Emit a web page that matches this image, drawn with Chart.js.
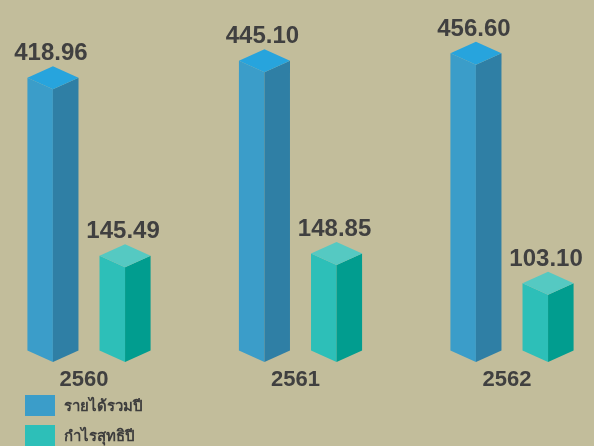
<!DOCTYPE html>
<html>
<head>
<meta charset="utf-8">
<script src="https://cdn.jsdelivr.net/npm/chart.js@4.4.0/dist/chart.umd.min.js"></script>
<style>
  html, body { margin: 0; padding: 0; background: #c2bd9b; }
  #wrap { position: relative; width: 594px; height: 446px; overflow: hidden; }
  #box { position: absolute; left: 0; top: 0; width: 594px; height: 410px; }
  #legend { position: absolute; left: 25px; top: 395px; font-family: "Liberation Sans", Arial, sans-serif; }
  .item { display: flex; align-items: center; height: 21px; margin-bottom: 9px; }
  .sw { width: 30px; height: 21px; margin-right: 9px; }
  .lb { font-size: 15px; font-weight: bold; color: #3d3d3d; }
</style>
</head>
<body>
<div id="wrap">
  <div id="box"><canvas id="graph"></canvas></div>
  <div id="legend"></div>
</div>
<script>
// data
const years = ['2560', '2561', '2562'];
const revenue = [418.96, 445.10, 456.60];
const netProfit = [145.49, 148.85, 103.10];
const seriesNames = ['รายได้รวมปี', 'กำไรสุทธิปี'];

// face colours: left, right, top
const faces = [
    ['#3b9dc9', '#2f7fa5', '#27a4dd'],
    ['#2dbfb8', '#019d8f', '#55c9c2'],
];

const depth = 11.5;

// draws every bar as a little prism, using the bar element geometry
const prismBars = {
    id: 'prismBars',
    beforeDatasetDraw() {
        return false;
    },
    afterDatasetsDraw(chart) {
        const ctx = chart.ctx;
        chart.data.datasets.forEach(function(ds, di) {
            const meta = chart.getDatasetMeta(di);
            const col = faces[di];
            meta.data.forEach(function(bar, i) {
                const p = bar.getProps(['x', 'y', 'base', 'width'], true);
                const hw = p.width / 2;
                const x = p.x, y = p.y, b = p.base;
                ctx.save();
                // left face
                ctx.fillStyle = col[0];
                ctx.beginPath();
                ctx.moveTo(x - hw, y);
                ctx.lineTo(x, y + depth);
                ctx.lineTo(x, b + depth);
                ctx.lineTo(x - hw, b);
                ctx.closePath();
                ctx.fill();
                // right face
                ctx.fillStyle = col[1];
                ctx.beginPath();
                ctx.moveTo(x, y + depth);
                ctx.lineTo(x + hw, y);
                ctx.lineTo(x + hw, b);
                ctx.lineTo(x, b + depth);
                ctx.closePath();
                ctx.fill();
                // top
                ctx.fillStyle = col[2];
                ctx.beginPath();
                ctx.moveTo(x - hw, y);
                ctx.lineTo(x, y - depth);
                ctx.lineTo(x + hw, y);
                ctx.lineTo(x, y + depth);
                ctx.closePath();
                ctx.fill();
                // value label
                ctx.fillStyle = '#404040';
                ctx.font = 'bold 24px "Liberation Sans", Arial, sans-serif';
                ctx.textAlign = 'center';
                ctx.textBaseline = 'alphabetic';
                ctx.fillText(ds.data[i].toFixed(2), x - 2, y - depth - 6);
                ctx.restore();
            });
        });
    }
};

const ctx = document.getElementById('graph').getContext('2d');
window.chartx = new Chart(ctx, {
    type: 'bar',
    data: {
        labels: years,
        datasets: [{
            label: seriesNames[0],
            data: revenue,
            backgroundColor: faces[0][0],
        }, {
            label: seriesNames[1],
            data: netProfit,
            backgroundColor: faces[1][0],
        }],
    },
    options: {
        responsive: true,
        maintainAspectRatio: false,
        animation: false,
        categoryPercentage: 0.682,
        barPercentage: 0.708,
        layout: {
            padding: { left: 89, right: 82, top: 25, bottom: 0 }
        },
        plugins: {
            legend: { display: false },
            tooltip: { enabled: false },
        },
        scales: {
            x: {
                offset: false,
                grid: { display: false, drawTicks: false },
                border: { display: false },
                ticks: {
                    color: '#404040',
                    padding: 16.6,
                    labelOffset: -5,
                    font: { size: 22, weight: 'bold', family: '"Liberation Sans", Arial, sans-serif' }
                }
            },
            y: {
                display: false,
                min: 0,
                max: 500,
            },
        },
    },
    plugins: [prismBars],
});

// html legend built from the datasets
const legendBox = document.getElementById('legend');
window.chartx.data.datasets.forEach(function(ds) {
    const row = document.createElement('div');
    row.className = 'item';
    const sw = document.createElement('div');
    sw.className = 'sw';
    sw.style.background = ds.backgroundColor;
    const lb = document.createElement('span');
    lb.className = 'lb';
    lb.textContent = ds.label;
    row.appendChild(sw);
    row.appendChild(lb);
    legendBox.appendChild(row);
});
</script>
</body>
</html>
